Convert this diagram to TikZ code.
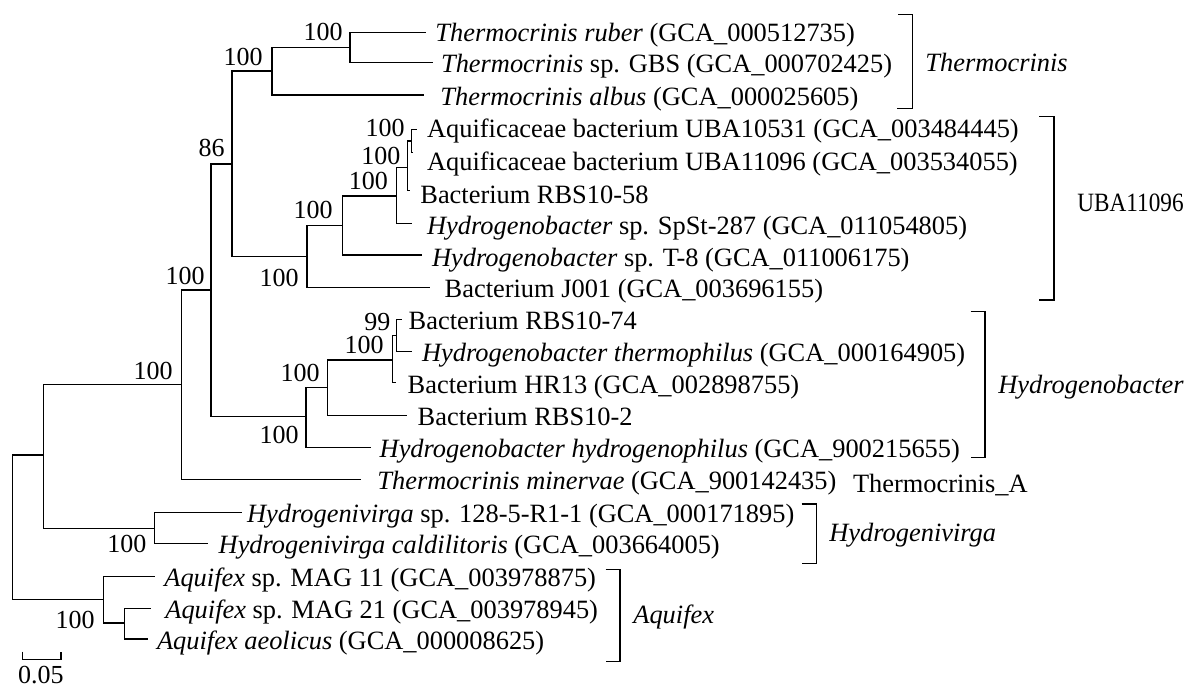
\documentclass[tikz,border=0pt]{standalone}
\usepackage{fontspec}
\setmainfont{Liberation Serif}

\tikzset{
  branch/.style={line width=0.65pt},
  clade/.style={line width=0.65pt},
  taxon/.style={anchor=base west, inner sep=0pt, yshift=-4.2pt, font=\fontsize{13.2}{15}\selectfont},
  boot/.style={anchor=base east, inner sep=0pt, font=\fontsize{13}{15}\selectfont},
}

\begin{document}
\begin{tikzpicture}[x=0.5pt,y=-0.5pt]

\useasboundingbox (0,0) rectangle (1188,687);

% Internal nodes
\coordinate (root) at (12.7,527);
\coordinate (n43) at (43.3,455);
\coordinate (n181) at (181.7,384.3);
\coordinate (n211) at (211,290);
\coordinate (t3) at (232,164);
\coordinate (t2) at (272,71);
\coordinate (t1) at (350,47.7);
\coordinate (u5) at (307,256.5);
\coordinate (u4) at (342.3,225.7);
\coordinate (u3) at (396.7,196);
\coordinate (u2) at (407.7,167.3);
\coordinate (u1) at (411.7,141);
\coordinate (h4) at (306,416.7);
\coordinate (h3) at (327.7,387.7);
\coordinate (h2) at (392.3,360);
\coordinate (h1) at (396.7,335.5);
\coordinate (hv) at (154.3,528.3);
\coordinate (a1) at (103.3,599.5);
\coordinate (a2) at (124.3,623);

% Leaf ends
\coordinate (e1) at (426,32.3);
\coordinate (e2) at (433,62.7);
\coordinate (e3) at (424,95);
\coordinate (e4) at (417.3,129.3);
\coordinate (e5) at (412.7,152.5);
\coordinate (e6) at (410,190.5);
\coordinate (e7) at (411.7,223.3);
\coordinate (e8) at (421.7,255);
\coordinate (e9) at (430,287.3);
\coordinate (e10) at (401.7,319.3);
\coordinate (e11) at (411.7,351.7);
\coordinate (e12) at (395.7,382.7);
\coordinate (e13) at (406.7,415.3);
\coordinate (e14) at (370.7,447.3);
\coordinate (e15) at (361,479.3);
\coordinate (e16) at (241.7,512.3);
\coordinate (e17) at (208.3,543.3);
\coordinate (e18) at (155,576.5);
\coordinate (e19) at (150.7,608.3);
\coordinate (e20) at (148.3,639);

% Branches
\foreach \p/\c in {root/n43, root/a1, n43/n181, n43/hv, n181/n211, n181/e15,
  n211/t3, n211/h4, t3/t2, t3/u5, t2/t1, t2/e3, t1/e1, t1/e2,
  u5/u4, u5/e9, u4/u3, u4/e8, u3/u2, u3/e7, u2/u1, u2/e6, u1/e4, u1/e5,
  h4/h3, h4/e14, h3/h2, h3/e13, h2/h1, h2/e12, h1/e10, h1/e11,
  hv/e16, hv/e17, a1/e18, a1/a2, a2/e19, a2/e20}
  \draw[branch] (\p) |- (\c);

% Bootstrap values
\node[boot] (b1) at (343,40.6) {100};
\node[boot] (b2) at (263,65.3) {100};
\node[boot] (b3) at (225,156) {86};
\node[boot] (b4) at (405,136.6) {100};
\node[boot] (b5) at (400.7,164) {100};
\node[boot] (b6) at (388.3,189) {100};
\node[boot] (b7) at (333,218.3) {100};
\node[boot] (b8) at (299,286.3) {100};
\node[boot] (b9) at (205,284.3) {100};
\node[boot] (b10) at (173,379.3) {100};
\node[boot] (b11) at (390.7,330) {99};
\node[boot] (b12) at (384,353.3) {100};
\node[boot] (b13) at (320,381.3) {100};
\node[boot] (b14) at (299,443.3) {100};
\node[boot] (b15) at (146.7,552.6) {100};
\node[boot] (b16) at (95,628.3) {100};

% Taxa
\node[taxon] (s1) at (435,33.3) {\textit{Thermocrinis ruber} (GCA\_000512735)};
\node[taxon] (s2) at (440.7,64.3) {\textit{Thermocrinis} sp. GBS (GCA\_000702425)};
\node[taxon] (s3) at (440,96.7) {\textit{Thermocrinis albus} (GCA\_000025605)};
\node[taxon] (s4) at (426.7,129) {Aquificaceae bacterium UBA10531 (GCA\_003484445)};
\node[taxon] (s5) at (426.7,162) {Aquificaceae bacterium UBA11096 (GCA\_003534055)};
\node[taxon] (s6) at (420,194.7) {Bacterium RBS10-58};
\node[taxon] (s7) at (426.7,225.8) {\textit{Hydrogenobacter} sp. SpSt-287 (GCA\_011054805)};
\node[taxon] (s8) at (431.7,258) {\textit{Hydrogenobacter} sp. T-8 (GCA\_011006175)};
\node[taxon] (s9) at (444.3,289.3) {Bacterium J001 (GCA\_003696155)};
\node[taxon] (s10) at (408.3,321) {Bacterium RBS10-74};
\node[taxon] (s11) at (421.7,353.5) {\textit{Hydrogenobacter thermophilus} (GCA\_000164905)};
\node[taxon] (s12) at (407.3,385) {Bacterium HR13 (GCA\_002898755)};
\node[taxon] (s13) at (417.3,417) {Bacterium RBS10-2};
\node[taxon] (s14) at (379.3,449.5) {\textit{Hydrogenobacter hydrogenophilus} (GCA\_900215655)};
\node[taxon] (s15) at (377,481) {\textit{Thermocrinis minervae} (GCA\_900142435)};
\node[taxon] (s16) at (246.7,514) {\textit{Hydrogenivirga} sp. 128-5-R1-1 (GCA\_000171895)};
\node[taxon] (s17) at (218.3,545.5) {\textit{Hydrogenivirga caldilitoris} (GCA\_003664005)};
\node[taxon] (s18) at (164,578.5) {\textit{Aquifex} sp. MAG 11 (GCA\_003978875)};
\node[taxon] (s19) at (165,610.5) {\textit{Aquifex} sp. MAG 21 (GCA\_003978945)};
\node[taxon] (s20) at (156.7,641) {\textit{Aquifex aeolicus} (GCA\_000008625)};

% Clade brackets
\draw[clade] (898,14.3) -- (912.7,14.3) -- (912.7,108.3) -- (897.3,108.3);
\node[taxon] (c1) at (925,62.7) {\textit{Thermocrinis}};
\draw[clade] (1039,116.7) -- (1054,116.7) -- (1054,300) -- (1039,300);
\node[taxon] (c2) at (1077,203) {\scalebox{0.88}[1]{UBA11096}};
\draw[clade] (970.7,311.7) -- (985,311.7) -- (985,457.7) -- (970.7,457.7);
\node[taxon] (c3) at (998,385) {\textit{Hydrogenobacter}};
\node[taxon] (c4) at (852.7,484.3) {Thermocrinis\_A};
\draw[clade] (801.7,504) -- (816.7,504) -- (816.7,563.3) -- (801.7,563.3);
\node[taxon] (c5) at (829,533.3) {\textit{Hydrogenivirga}};
\draw[clade] (605.7,569.3) -- (620,569.3) -- (620,661.7) -- (605.7,661.7);
\node[taxon] (c6) at (633,615) {\textit{Aquifex}};

% Scale bar
\draw[branch] (22.7,651.7) -- (22.7,659.3) -- (61,659.3) -- (61,651.7);
\node[boot, anchor=base] (sc) at (40.8,683) {0.05};

\end{tikzpicture}
\end{document}
